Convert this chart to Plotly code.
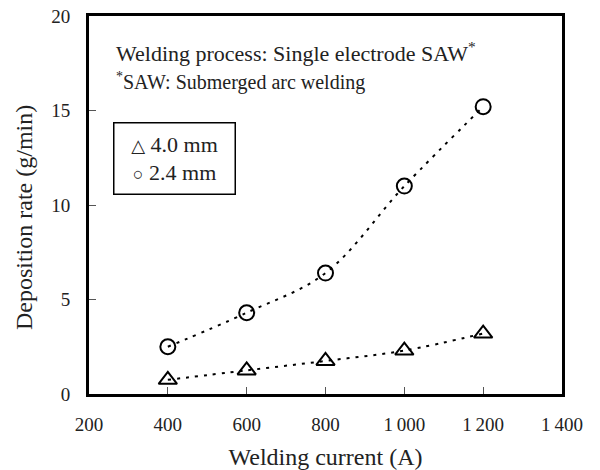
import plotly.graph_objects as go

current = [400, 600, 800, 1000, 1200]
rate_24 = [2.5, 4.3, 6.4, 11.0, 15.2]
rate_40 = [0.75, 1.25, 1.75, 2.3, 3.2]
x_ticks = [200, 400, 600, 800, 1000, 1200, 1400]
x_tick_text = ["200", "400", "600", "800", "1\u2009000", "1\u2009200", "1\u2009400"]
y_ticks = [0, 5, 10, 15, 20]

FONT = "'Liberation Serif', 'Times New Roman', 'DejaVu Serif', serif"
INK = "#222"
fig = go.Figure()

for ys, sym, size in [(rate_40, "triangle-up-open", 16), (rate_24, "circle-open", 15)]:
    fig.add_trace(go.Scatter(
        x=current, y=ys, mode="lines",
        line=dict(color="black", width=2, dash="3px,6px", shape="spline", smoothing=1.0),
        showlegend=False, hoverinfo="skip"))
    fig.add_trace(go.Scatter(
        x=current, y=ys, mode="markers",
        marker=dict(symbol=sym, size=size, color="black", line=dict(color="black", width=2)),
        showlegend=False))

axis_common = dict(showline=True, linecolor="black", linewidth=3, mirror=True,
                   ticks="inside", ticklen=7, tickwidth=1, tickcolor="#555",
                   showgrid=False, zeroline=False, automargin=False,
                   ticklabeloverflow="allow",
                   tickfont=dict(family=FONT, size=19, color=INK))

fig.update_xaxes(range=[200, 1400], tickvals=x_ticks, ticktext=x_tick_text,
                 ticklabelstandoff=11,
                 title=dict(text="Welding current (A)", font=dict(family=FONT, size=24, color=INK), standoff=15),
                 **axis_common)
fig.update_yaxes(range=[0, 20], tickvals=y_ticks, ticklabelstandoff=12, **axis_common)

# y-axis title (sits a little below the plot centre in the reference)
fig.add_annotation(xref="paper", yref="paper", x=-0.137, y=0.466, xanchor="center", yanchor="middle",
                   text="Deposition rate (g/min)", textangle=-90, showarrow=False,
                   font=dict(family=FONT, size=24, color=INK))

fig.add_annotation(xref="paper", yref="paper", x=0.053, y=0.905, xanchor="left", yanchor="middle",
                   text="Welding process: Single electrode SAW<sup>*</sup>", showarrow=False,
                   font=dict(family=FONT, size=22, color=INK))
fig.add_annotation(xref="paper", yref="paper", x=0.053, y=0.826, xanchor="left", yanchor="middle",
                   text="<sup>*</sup>SAW: Submerged arc welding", showarrow=False,
                   font=dict(family=FONT, size=20, color=INK))
fig.add_annotation(xref="paper", yref="paper", x=0.0507, y=0.622, xanchor="left", yanchor="middle",
                   text="<span style='font-size:18px'>\u25b3</span> 4.0 mm<br><span style='font-size:18px'>\u25cb</span> 2.4 mm",
                   showarrow=False, align="center", width=116, height=66, borderpad=2,
                   bordercolor="black", borderwidth=1.5,
                   font=dict(family=FONT, size=22, color=INK))

fig.update_layout(width=600, height=470, margin=dict(l=89, r=38, t=16, b=76),
                  plot_bgcolor="white", paper_bgcolor="white")
# remove the default 8px page margin so the figure sits at the window origin
fig.write_html("out.html", config={"displayModeBar": False},
               post_script="document.body.style.margin='0';")
